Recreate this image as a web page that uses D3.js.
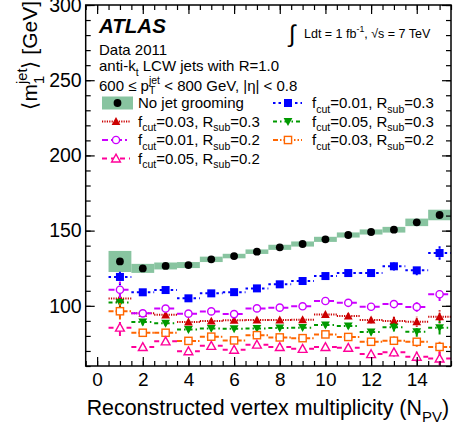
<!DOCTYPE html>
<html><head><meta charset="utf-8">
<script src="https://cdn.jsdelivr.net/npm/d3@7/dist/d3.min.js"></script>
<style>
html,body{margin:0;padding:0;background:#fff;}
svg text{font-family:"Liberation Sans",Arial,Helvetica,sans-serif;white-space:pre;fill:#000;}
</style></head>
<body><svg id="c" width="454" height="429"></svg>
<script>
// ---------------- data ----------------
const npv = [1,2,3,4,5,6,7,8,9,10,11,12,13,14,15];
const noGroom     = [129.5,124.9,126.5,127.1,130.9,133.1,136.0,138.9,141.1,144.2,147.1,149.1,150.6,155.5,160.4];
const noGroomSyst = [7.0,3.0,2.3,2.0,1.8,1.5,1.5,1.7,1.7,1.7,1.7,1.7,1.9,2.5,3.5];
const f01R03 = [119.2,109.0,110.5,105.0,108.3,109.1,111.6,114.3,116.5,119.8,121.8,121.8,126.3,123.6,135.1];
const f05R03 = [102.2,89.2,88.4,84.2,85.0,84.7,85.0,85.2,85.5,87.2,86.6,82.6,85.7,82.8,85.4];
const f03R03 = [104.8,95.0,94.0,89.3,89.9,90.4,90.6,90.6,90.8,94.3,93.2,90.6,90.0,89.4,92.8];
const f01R02 = [110.7,95.0,98.2,94.8,96.3,94.5,98.3,98.8,99.7,103.2,102.0,99.4,101.2,99.3,107.7];
const f03R02 = [96.4,82.1,82.1,76.7,79.5,77.0,80.5,79.0,78.5,81.0,79.3,76.1,76.8,76.1,72.7];
const f05R02 = [85.5,72.6,76.4,69.8,73.4,70.8,74.2,72.6,71.4,72.6,72.1,67.9,69.1,66.2,65.0];
const statErr = [5.5,2.2,1.6,1.4,1.3,1.2,1.2,1.3,1.4,1.6,1.8,2.2,2.8,3.3,4.5];
const xTicks = [0,2,4,6,8,10,12,14];
const yTicks = [100,150,200,250,300];

const series = [
  {vals:f01R03, color:"#0000ff", dash:"2.5,3", marker:"square", open:false, fcut:"0.01", rsub:"0.3", col:1, row:0},
  {vals:f03R03, color:"#cc0000", dash:"1.2,1.2", marker:"tri", open:false, fcut:"0.03", rsub:"0.3", col:0, row:1},
  {vals:f05R03, color:"#009900", dash:"4,3,1.5,3", marker:"trid", open:false, fcut:"0.05", rsub:"0.3", col:1, row:1},
  {vals:f01R02, color:"#cc00ff", dash:"6,3,2,3", marker:"circle", open:true, fcut:"0.01", rsub:"0.2", col:0, row:2},
  {vals:f03R02, color:"#ff6600", dash:"5,2,1.5,2,1.5,2", marker:"square", open:true, fcut:"0.03", rsub:"0.2", col:1, row:2},
  {vals:f05R02, color:"#ff0099", dash:"5,4", marker:"tri", open:true, fcut:"0.05", rsub:"0.2", col:0, row:3}
];

// ---------------- layout ----------------
const svg = d3.select("#c");
const L = 85.7, R = 451, T = 5, B = 366;
const x = d3.scaleLinear().domain([-0.5,15.5]).range([L,R]);
const y = d3.scaleLinear().domain([60,300]).range([B,T]);
const FONT = "Liberation Sans, Arial, sans-serif";

// rich text helper: parts = [{n:"text"} | {sub:"..", sup:".."}]
function rich(g, parts, size, subOff){
  const so = subOff === undefined ? 0.32 : subOff;
  let cx = 0;
  parts.forEach(p=>{
    if (p.n !== undefined){
      const t = g.append("text").attr("x",cx).attr("y",0).style("font-size",size+"px").text(p.n);
      cx += t.node().getComputedTextLength();
    } else {
      let w = 0;
      if (p.sub){
        const t = g.append("text").attr("x",cx).attr("y",size*so).style("font-size",(size*0.7)+"px").text(p.sub);
        w = Math.max(w, t.node().getComputedTextLength());
      }
      if (p.sup){
        const t = g.append("text").attr("x",cx).attr("y",-size*0.5).style("font-size",(size*0.7)+"px").text(p.sup);
        w = Math.max(w, t.node().getComputedTextLength());
      }
      cx += w;
    }
  });
  return cx;
}

// ---------------- syst band for no grooming ----------------
svg.append("g").selectAll("rect").data(npv).join("rect")
  .attr("x", d=>x(d-0.5)).attr("width", d=>x(d+0.5)-x(d-0.5))
  .attr("y", (d,i)=>y(noGroom[i]+noGroomSyst[i]))
  .attr("height", (d,i)=>y(noGroom[i]-noGroomSyst[i])-y(noGroom[i]+noGroomSyst[i]))
  .attr("fill","#88c4a0");

// ---------------- markers ----------------
function drawMarker(g, type, cx, cy, color, open, s){
  const sw = 1.4;
  let el;
  if (type==="circle"){
    el = g.append("circle").attr("cx",cx).attr("cy",cy).attr("r", open? s*0.45 : s*0.5);
  } else if (type==="square"){
    const h = open ? s*0.45 : s*0.5;
    el = g.append("rect").attr("x",cx-h).attr("y",cy-h).attr("width",2*h).attr("height",2*h);
  } else if (type==="tri"){
    const h = s*0.55;
    el = g.append("path").attr("d",`M${cx},${cy-h}L${cx+h},${cy+h*0.8}L${cx-h},${cy+h*0.8}Z`);
  } else if (type==="trid"){
    const h = s*0.55;
    el = g.append("path").attr("d",`M${cx},${cy+h}L${cx+h},${cy-h*0.8}L${cx-h},${cy-h*0.8}Z`);
  }
  if (open) el.attr("fill","#fff").attr("stroke",color).attr("stroke-width",sw);
  else el.attr("fill",color).attr("stroke","none");
}

// ---------------- series ----------------
series.forEach(s=>{
  const g = svg.append("g");
  npv.forEach((n,i)=>{
    const v = s.vals[i], e = statErr[i];
    g.append("line").attr("x1",x(n-0.5)).attr("x2",x(n+0.5)).attr("y1",y(v)).attr("y2",y(v))
      .attr("stroke",s.color).attr("stroke-width",2).attr("stroke-dasharray",s.dash);
    g.append("line").attr("x1",x(n)).attr("x2",x(n)).attr("y1",y(v-e)).attr("y2",y(v+e))
      .attr("stroke",s.color).attr("stroke-width",2).attr("stroke-dasharray",s.dash);
  });
  npv.forEach((n,i)=> drawMarker(g, s.marker, x(n), y(s.vals[i]), s.color, s.open, 8));
});

// no grooming markers
svg.append("g").selectAll("circle").data(npv).join("circle")
  .attr("cx", d=>x(d)).attr("cy",(d,i)=>y(noGroom[i])).attr("r",3.9).attr("fill","#000");

// ---------------- axes ----------------
function styleAxis(g){ g.select(".domain").remove(); g.selectAll("line").attr("stroke","#000").attr("stroke-width",1.2); }
const xMinor = d3.range(-0.5,15.51,0.5);
const yMinor = d3.range(60,300.1,10);
svg.append("g").attr("transform",`translate(0,${B})`).call(d3.axisBottom(x).tickValues(xMinor).tickSize(-5).tickFormat("")).call(styleAxis);
svg.append("g").attr("transform",`translate(0,${T})`).call(d3.axisTop(x).tickValues(xMinor).tickSize(-5).tickFormat("")).call(styleAxis);
svg.append("g").attr("transform",`translate(${L},0)`).call(d3.axisLeft(y).tickValues(yMinor).tickSize(-5).tickFormat("")).call(styleAxis);
svg.append("g").attr("transform",`translate(${R},0)`).call(d3.axisRight(y).tickValues(yMinor).tickSize(-5).tickFormat("")).call(styleAxis);

const xa = svg.append("g").attr("transform",`translate(0,${B})`)
  .call(d3.axisBottom(x).tickValues(xTicks).tickSize(-9).tickPadding(7).tickFormat(d3.format("d"))).call(styleAxis);
xa.selectAll("text").style("font-size","19px").style("font-family",FONT).attr("fill","#000");
svg.append("g").attr("transform",`translate(0,${T})`).call(d3.axisTop(x).tickValues(xTicks).tickSize(-9).tickFormat("")).call(styleAxis);
const ya = svg.append("g").attr("transform",`translate(${L},0)`)
  .call(d3.axisLeft(y).tickValues(yTicks).tickSize(-9).tickPadding(4).tickFormat(d3.format("d"))).call(styleAxis);
ya.selectAll("text").style("font-size","19.5px").style("font-family",FONT).attr("fill","#000");
svg.append("g").attr("transform",`translate(${R},0)`).call(d3.axisRight(y).tickValues(yTicks).tickSize(-9).tickFormat("")).call(styleAxis);

svg.append("rect").attr("x",L).attr("y",T).attr("width",R-L).attr("height",B-T)
  .attr("fill","none").attr("stroke","#000").attr("stroke-width",1.5);

// ---------------- axis titles ----------------
{
  const g = svg.append("g");
  const w = rich(g, [{n:"Reconstructed vertex multiplicity (N"},{sub:"PV"},{n:")"}], 21.4);
  g.attr("transform",`translate(${449-w},415)`);
}
{
  const outer = svg.append("g").attr("transform","translate(37,1) rotate(-90)");
  const g = outer.append("g");
  const w = rich(g, [{n:"\u27E8m"},{sub:"1",sup:"jet"},{n:"\u27E9 [GeV]"}], 21);
  g.attr("transform",`translate(${-w},0)`);
}

// ---------------- header texts ----------------
svg.append("text").attr("x",99).attr("y",33).style("font-size","20.5px").style("font-weight","bold").style("font-style","italic").text("ATLAS");
svg.append("text").attr("x",99).attr("y",55).style("font-size","15px").text("Data 2011");
{
  const g = svg.append("g").attr("transform","translate(99,71)");
  rich(g,[{n:"anti-k"},{sub:"t"},{n:" LCW jets with R=1.0"}],15);
}
{
  const g = svg.append("g").attr("transform","translate(99,91)");
  rich(g,[{n:"600 \u2264 p"},{sub:"T",sup:"jet"},{n:" < 800 GeV, |\u03B7| < 0.8"}],15,0.22);
}
{
  svg.append("text").attr("x",289).attr("y",42).style("font-size","24px").text("\u222B");
  const g = svg.append("g").attr("transform","translate(304,38)");
  const parts = [{n:"Ldt = 1 fb"},{sup:"-1"},{n:", \u221As = 7 TeV"}];
  rich(g,parts,12.5);
}

// ---------------- legend ----------------
const rowY = [103,121.5,140,158.5];
const colSym = [[102,130,116],[273,302,288]];
const colTxt = [138,312];
// no grooming entry
svg.append("rect").attr("x",102).attr("y",rowY[0]-6.5).attr("width",31).attr("height",13).attr("fill","#88c4a0");
svg.append("circle").attr("cx",117.5).attr("cy",rowY[0]).attr("r",3.9).attr("fill","#000");
svg.append("text").attr("x",colTxt[0]).attr("y",rowY[0]+5).style("font-size","15px").text("No jet grooming");
series.forEach(s=>{
  const cs = colSym[s.col], yy = rowY[s.row];
  svg.append("line").attr("x1",cs[0]).attr("x2",cs[1]).attr("y1",yy).attr("y2",yy)
    .attr("stroke",s.color).attr("stroke-width",2).attr("stroke-dasharray",s.dash);
  drawMarker(svg, s.marker, cs[2], yy, s.color, s.open, 8);
  const g = svg.append("g").attr("transform",`translate(${colTxt[s.col]},${yy+5})`);
  rich(g,[{n:"f"},{sub:"cut"},{n:"="+s.fcut+", R"},{sub:"sub"},{n:"="+s.rsub}],15);
});
</script></body></html>
